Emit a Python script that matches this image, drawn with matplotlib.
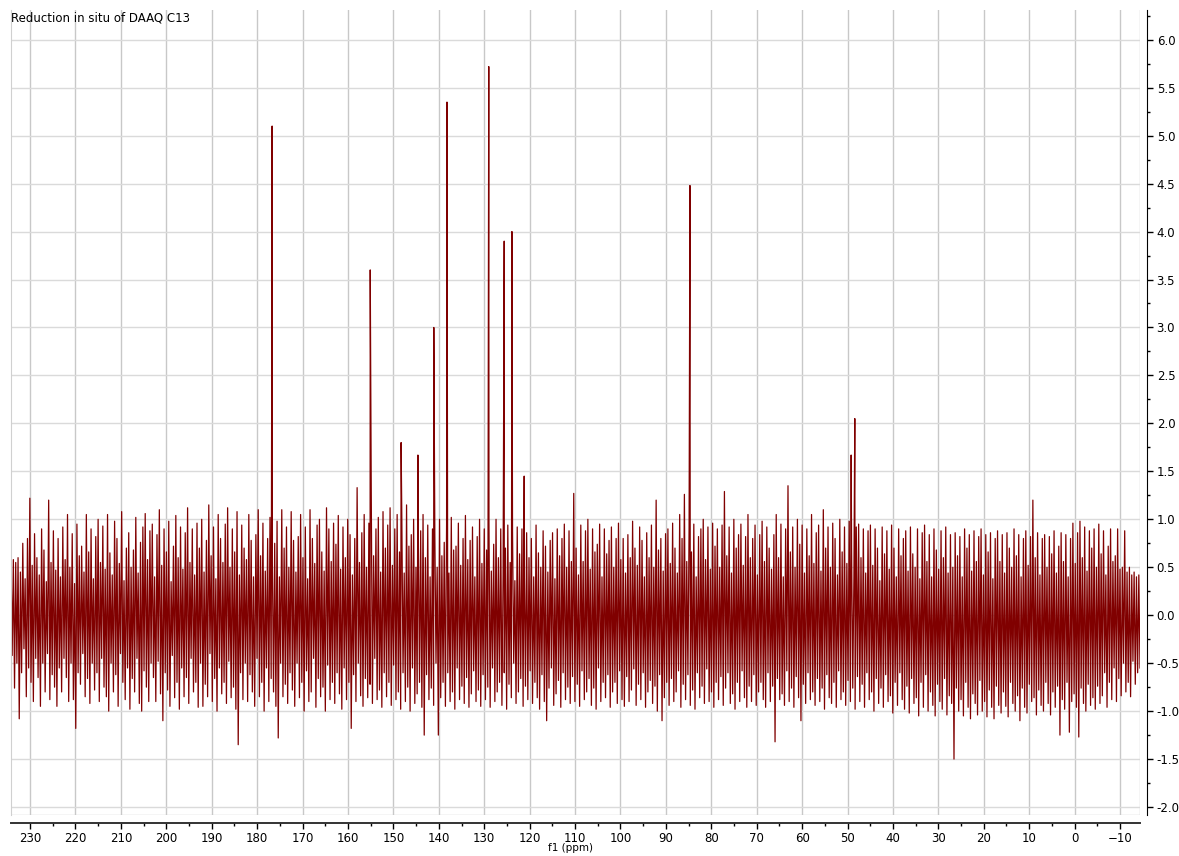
import numpy as np
import matplotlib
matplotlib.use("Agg")
import matplotlib.pyplot as plt
from matplotlib.ticker import MultipleLocator, FormatStrFormatter

title = "Reduction in situ of DAAQ C13"
xlabel = "f1 (ppm)"
ppm_start, ppm_end = 234.2, -14.4

# baseline noise read left (high ppm) to right (low ppm):
# successive local maxima and the local minima that follow them
noise_top = [
    0.62, 0.58, 0.55, 0.6, 0.45, 0.75, 0.38, 0.8, 1.22, 0.52, 0.85, 0.6, 0.42, 0.9, 0.68, 0.35, 1.2, 0.55, 0.88, 0.47,
    0.8, 0.4, 0.92, 0.58, 1.05, 0.5, 0.85, 0.33, 0.95, 0.62, 0.72, 0.45, 1.05, 0.66, 0.9, 0.38, 0.82, 1.0, 0.55, 0.93,
    0.48, 1.05, 0.65, 0.42, 0.98, 0.8, 0.54, 1.08, 0.36, 0.7, 0.86, 0.5, 0.68, 1.02, 0.44, 0.76, 0.92, 1.06, 0.58, 0.88,
    0.95, 0.4, 0.84, 1.1, 0.52, 0.9, 0.66, 0.98, 0.35, 0.72, 1.04, 0.6, 0.92, 0.48, 0.86, 1.12, 0.55, 0.9, 0.42, 0.96,
    0.7, 1.0, 0.45, 0.78, 1.15, 0.62, 0.92, 0.38, 1.05, 0.8, 0.55, 0.95, 1.12, 0.5, 0.9, 0.66, 1.08, 0.42, 0.94, 0.7,
    0.58, 1.05, 0.78, 0.4, 0.84, 1.1, 0.62, 0.96, 0.46, 0.8, 1.02, 0.55, 0.75, 0.98, 0.4, 1.1, 0.7, 0.92, 0.5, 1.08,
    0.78, 0.45, 0.82, 1.05, 0.6, 0.92, 0.38, 1.1, 0.8, 0.54, 0.94, 1.0, 0.66, 0.46, 1.12, 0.9, 0.56, 0.96, 0.74, 1.04,
    0.48, 0.92, 0.6, 1.0, 0.84, 0.42, 0.8, 1.33, 0.55, 0.86, 1.05, 0.5, 0.96, 1.3, 0.62, 0.9, 1.02, 0.45, 1.08, 0.7,
    0.94, 1.12, 0.52, 0.9, 1.05, 0.66, 0.98, 0.44, 1.15, 0.72, 0.84, 1.0, 0.5, 0.76, 0.88, 1.05, 0.6, 0.94, 0.4, 0.9,
    0.86, 0.5, 1.0, 0.62, 0.76, 0.95, 0.44, 1.02, 0.68, 0.72, 0.96, 0.52, 0.8, 1.04, 0.58, 0.78, 0.92, 0.4, 0.82, 1.0,
    0.54, 0.9, 0.68, 0.96, 0.46, 0.74, 1.0, 0.6, 0.9, 0.42, 0.7, 0.94, 0.55, 0.88, 0.36, 0.92, 0.64, 0.9, 0.48, 0.86,
    0.6, 0.8, 0.4, 0.94, 0.65, 0.5, 0.88, 0.72, 0.45, 0.78, 0.86, 0.38, 0.9, 0.62, 0.8, 0.95, 0.5, 0.88, 0.56, 1.27,
    0.7, 0.42, 0.94, 0.56, 0.88, 1.0, 0.48, 0.9, 0.66, 0.74, 0.95, 0.4, 0.9, 0.64, 0.78, 0.92, 0.5, 0.8, 0.96, 0.58,
    0.8, 0.44, 0.84, 0.6, 0.98, 0.7, 0.52, 0.92, 0.78, 0.4, 0.86, 0.6, 0.94, 0.5, 1.2, 0.68, 0.8, 0.46, 0.85, 0.9,
    0.54, 0.96, 0.7, 0.44, 1.05, 0.8, 1.26, 0.56, 0.92, 0.66, 0.95, 0.4, 0.82, 0.9, 1.0, 0.58, 0.92, 0.48, 0.96, 0.72,
    0.9, 0.5, 0.94, 1.29, 0.62, 0.92, 0.44, 1.0, 0.7, 0.84, 0.95, 0.52, 0.82, 1.05, 0.6, 0.8, 0.94, 0.42, 0.84, 0.98,
    0.56, 0.92, 0.7, 0.48, 0.84, 1.05, 0.6, 0.95, 0.4, 0.9, 1.35, 0.66, 0.92, 0.5, 1.0, 0.74, 0.94, 0.44, 0.9, 0.62,
    1.05, 0.54, 0.86, 0.94, 0.46, 1.1, 0.7, 0.92, 0.5, 0.96, 0.8, 0.42, 1.0, 0.66, 0.92, 0.54, 0.98, 0.72, 0.4, 0.92,
    0.95, 0.6, 0.9, 0.44, 0.88, 0.94, 0.52, 0.9, 0.7, 0.36, 0.92, 0.64, 0.88, 0.48, 0.94, 0.7, 0.4, 0.9, 0.62, 0.8,
    0.88, 0.46, 0.92, 0.64, 0.5, 0.9, 0.38, 0.86, 0.94, 0.56, 0.84, 0.4, 0.9, 0.68, 0.48, 0.88, 0.6, 0.92, 0.44, 0.84,
    0.5, 0.86, 0.62, 0.82, 0.4, 0.9, 0.7, 0.84, 0.46, 0.88, 0.56, 0.82, 0.9, 0.42, 0.84, 0.66, 0.86, 0.38, 0.8, 0.88,
    0.56, 0.84, 0.44, 0.86, 0.7, 0.5, 0.9, 0.62, 0.84, 0.4, 0.8, 0.88, 0.52, 0.82, 1.2, 0.6, 0.86, 0.42, 0.8, 0.84,
    0.5, 0.82, 0.64, 0.88, 0.44, 0.72, 0.86, 0.56, 0.84, 0.4, 0.8, 0.96, 0.54, 0.86, 0.98, 0.6, 0.92, 0.46, 0.88, 0.7,
    0.9, 0.5, 0.95, 0.64, 0.88, 0.42, 0.72, 0.9, 0.56, 0.62, 0.9, 0.48, 0.5, 0.88, 0.45, 0.5, 0.42, 0.45, 0.4, 0.42,
]
noise_bottom = [
    -0.42, -0.76, -0.5, -1.08, -0.6, -0.35, -0.85, -0.55, -0.7, -0.9, -0.45, -0.65, -0.95, -0.5, -0.8, -0.4, -0.88, -0.62, -0.75, -0.95,
    -0.55, -0.8, -0.45, -0.65, -0.9, -0.5, -0.88, -1.18, -0.6, -0.72, -0.4, -0.85, -0.66, -0.92, -0.5, -0.78, -0.6, -0.9, -0.45, -0.75,
    -0.85, -1.0, -0.5, -0.8, -0.62, -0.95, -0.4, -0.7, -0.88, -0.55, -0.98, -0.66, -0.8, -0.45, -0.92, -1.0, -0.58, -0.75, -0.9, -0.5,
    -0.65, -0.9, -0.48, -0.82, -1.1, -0.6, -0.78, -0.95, -0.42, -0.86, -0.7, -0.98, -0.55, -0.85, -0.65, -0.92, -0.45, -0.8, -0.7, -0.96,
    -0.5, -0.95, -0.72, -0.85, -0.4, -0.9, -0.66, -1.0, -0.55, -0.82, -0.7, -0.92, -0.48, -0.86, -0.75, -0.98, -1.35, -0.6, -0.88, -0.5,
    -0.9, -0.62, -0.8, -0.95, -0.45, -0.85, -0.7, -1.0, -0.55, -0.9, -0.66, -0.8, -0.95, -1.28, -0.5, -0.85, -0.72, -0.92, -0.6, -0.78,
    -0.95, -0.5, -0.86, -0.7, -1.0, -0.58, -0.9, -0.8, -0.45, -0.96, -0.66, -0.85, -0.75, -1.0, -0.52, -0.88, -0.7, -0.92, -0.6, -0.82,
    -0.98, -0.55, -0.88, -0.7, -1.18, -0.62, -0.9, -0.5, -0.84, -0.95, -0.66, -0.86, -0.72, -0.92, -0.45, -0.88, -0.78, -0.96, -0.6, -0.85,
    -0.7, -0.94, -0.52, -0.88, -0.8, -0.98, -0.6, -0.9, -0.75, -1.0, -0.55, -0.92, -0.82, -0.7, -0.96, -1.25, -0.62, -0.88, -0.76, -0.94,
    -0.5, -1.25, -0.86, -0.7, -0.95, -0.6, -0.9, -0.8, -0.98, -0.55, -0.88, -0.74, -0.92, -0.65, -0.96, -0.82, -0.58, -0.9, -0.78, -0.95,
    -0.62, -0.88, -0.75, -0.96, -0.55, -0.9, -0.8, -0.7, -0.94, -0.6, -0.98, -0.72, -0.86, -0.5, -0.92, -0.8, -0.66, -0.95, -0.74, -0.88,
    -0.58, -0.92, -0.7, -0.86, -0.98, -0.62, -0.9, -1.1, -0.76, -0.55, -0.94, -0.82, -0.68, -0.96, -0.6, -0.88, -0.75, -0.92, -0.64, -0.9,
    -0.72, -0.95, -0.58, -0.88, -0.8, -0.66, -0.94, -0.76, -0.98, -0.55, -0.9, -0.7, -0.86, -0.62, -0.96, -0.8, -0.7, -0.92, -0.58, -0.88,
    -0.95, -0.64, -0.9, -0.78, -0.56, -0.94, -0.72, -0.88, -0.6, -0.96, -0.8, -0.68, -0.92, -0.74, -1.0, -0.62, -1.1, -0.86, -0.7, -0.94,
    -0.66, -0.9, -0.8, -0.58, -0.96, -0.72, -0.88, -0.62, -0.94, -0.78, -0.98, -0.6, -0.86, -0.74, -0.92, -0.56, -0.9, -0.8, -0.96, -0.7,
    -0.88, -0.64, -0.94, -0.76, -0.6, -0.92, -0.82, -0.98, -0.7, -0.9, -0.58, -0.86, -0.96, -0.74, -0.9, -0.62, -0.94, -0.8, -0.7, -0.88,
    -0.96, -0.6, -0.9, -0.74, -1.32, -0.66, -0.88, -0.82, -0.94, -0.58, -0.9, -0.76, -0.96, -0.64, -0.86, -1.1, -0.72, -0.92, -0.6, -0.88,
    -0.8, -0.94, -0.66, -0.9, -0.76, -0.98, -0.62, -0.86, -0.92, -0.7, -0.96, -0.58, -0.88, -0.8, -0.94, -0.68, -0.9, -0.76, -0.98, -0.64,
    -0.9, -0.72, -0.96, -0.6, -0.88, -0.8, -1.0, -0.66, -0.92, -0.76, -0.96, -0.62, -0.9, -0.84, -1.02, -0.7, -0.94, -0.6, -0.88, -0.98,
    -0.74, -1.02, -0.66, -0.92, -0.86, -1.05, -0.7, -0.96, -0.62, -1.0, -0.8, -0.94, -1.05, -0.72, -0.9, -0.98, -0.66, -1.04, -0.84, -0.92,
    -1.5, -0.76, -1.0, -0.88, -1.05, -0.7, -0.96, -1.08, -0.82, -0.92, -1.04, -0.68, -1.0, -0.9, -1.06, -0.78, -0.96, -1.08, -0.74, -0.94,
    -1.02, -0.8, -0.95, -1.06, -0.7, -0.92, -1.0, -0.84, -1.1, -0.76, -0.96, -1.02, -0.72, -0.9, -0.86, -1.04, -0.78, -0.94, -1.0, -0.7,
    -0.92, -1.04, -0.8, -0.96, -0.74, -1.25, -0.88, -0.98, -0.7, -1.22, -0.9, -0.82, -0.96, -1.27, -0.76, -0.92, -1.0, -0.72, -0.94, -0.86,
    -0.98, -0.74, -0.92, -0.84, -0.6, -0.96, -0.7, -0.88, -0.55, -0.9, -0.66, -0.84, -0.5, -0.8, -0.7, -0.85, -0.48, -0.72, -0.6, -0.55,
]

# resolved peaks (ppm, intensity)
peak_ppm = [176.7, 155.1, 148.3, 144.6, 141.1, 138.2, 129.0, 125.6, 123.9, 121.2, 84.7, 49.2, 48.4]
peak_height = [5.10, 3.60, 1.80, 1.67, 3.00, 5.35, 5.72, 3.90, 4.00, 1.45, 4.48, 1.67, 2.05]

n = min(len(noise_top), len(noise_bottom))
noise = np.column_stack([noise_top[:n], noise_bottom[:n]]).ravel()
noise_ppm = np.linspace(ppm_start, ppm_end, len(noise))
ppm = np.concatenate([noise_ppm, np.array(peak_ppm)])
inten = np.concatenate([noise, np.array(peak_height)])
order = np.argsort(-ppm)
ppm = ppm[order]
inten = inten[order]

plt.rcParams['font.family'] = ['DejaVu Sans']
fig = plt.figure(figsize=(11.79, 8.56), dpi=100)
ax = fig.add_axes([11/1179, 1 - 815/856, (1140 - 11)/1179, (815 - 10)/856])

ax.plot(ppm, inten, color='#800000', lw=0.9)

ax.set_xlim(ppm_start, ppm_end)
ax.set_ylim(-2.083, 6.31)

ax.xaxis.set_major_locator(MultipleLocator(10))
ax.xaxis.set_minor_locator(MultipleLocator(5))
ax.yaxis.set_major_locator(MultipleLocator(0.5))
ax.yaxis.set_minor_locator(MultipleLocator(0.25))
ax.yaxis.set_major_formatter(FormatStrFormatter('%.1f'))

ax.grid(True, which='major', axis='x', color='#c8c8c8', lw=1.0)
ax.grid(True, which='major', axis='y', color='#dadada', lw=1.0)
ax.set_axisbelow(True)

ax.yaxis.tick_right()
ax.spines['left'].set_color('#d0d0d0')
ax.spines['top'].set_visible(False)
ax.spines['right'].set_position(('outward', 5))
ax.spines['bottom'].set_position(('outward', 6))
ax.spines['right'].set_color('black')
ax.spines['bottom'].set_color('#333333')
ax.spines['bottom'].set_linewidth(1.4)
ax.axhline(-2.083, color='#d0d0d0', lw=1.0, zorder=0)
ax.axvline(ppm_end, color='#d0d0d0', lw=1.0, zorder=0)

ax.tick_params(axis='both', which='major', direction='out', length=4, width=1, labelsize=8.5, colors='black', pad=3)
ax.tick_params(axis='both', which='minor', direction='out', length=2.5, width=1, colors='black')
ax.tick_params(axis='x', pad=2)

fig.text(571/1179, 1 - 848/856, xlabel, fontsize=7.5, ha='center', va='center')
fig.text(11/1179, 1 - 18/856, title, fontsize=8.5, ha='left', va='center')

fig.savefig('out.png', dpi=100)
